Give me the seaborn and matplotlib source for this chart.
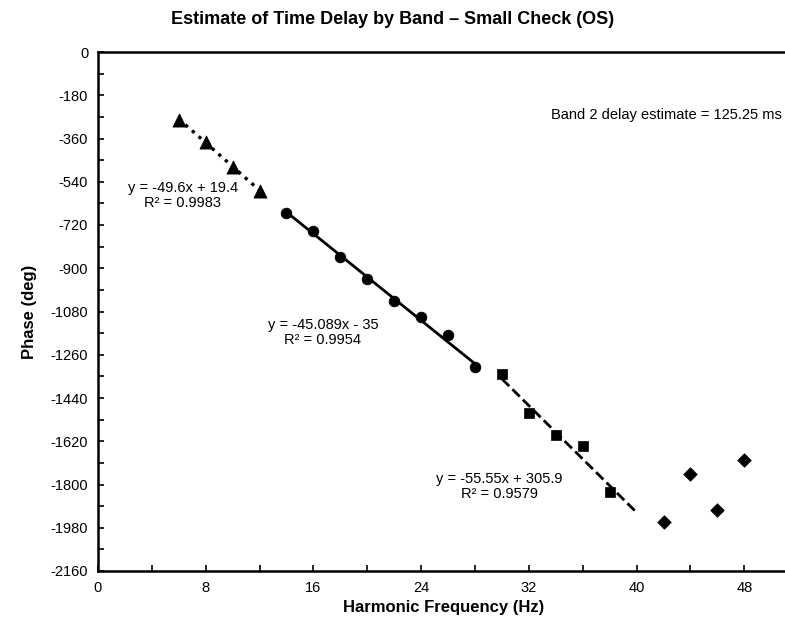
import numpy as np
import pandas as pd
import matplotlib
matplotlib.use("Agg")
import matplotlib.pyplot as plt
from matplotlib.ticker import MultipleLocator
import seaborn as sns

# Harmonic phase measurements, grouped by band
band1_hz = [6, 8, 10, 12]
band1_phase = [-285, -375, -480, -580]

band2_hz = [14, 16, 18, 20, 22, 24, 26, 28]
band2_phase = [-668, -745, -855, -945, -1035, -1104, -1176, -1310]

band3_hz = [30, 32, 34, 36, 38]
band3_phase = [-1342, -1502, -1592, -1638, -1832]

band4_hz = [42, 44, 46, 48]
band4_phase = [-1956, -1755, -1908, -1700]

# Linear trendlines (slope, intercept, R^2, x-span)
fit1 = (-49.6, 19.4, 0.9983, (6, 12))
fit2 = (-45.089, -35.0, 0.9954, (14, 28))
fit3 = (-55.55, 305.9, 0.9579, (30, 40))

delay_text = "Band 2 delay estimate = 125.25 ms"

sns.set_theme(style="white")
plt.rcParams["font.family"] = ["Liberation Sans", "DejaVu Sans"]
plt.rcParams["axes.unicode_minus"] = False
plt.rcParams["text.color"] = "black"
plt.rcParams["axes.labelcolor"] = "black"
plt.rcParams["xtick.color"] = "black"
plt.rcParams["ytick.color"] = "black"

fig = plt.figure(figsize=(7.85, 6.25), dpi=100)
ax = fig.add_axes([0.1248, 0.0864, 0.88, 0.8304])

bands = [
    (band1_hz, band1_phase, "^", 90),
    (band2_hz, band2_phase, "o", 60),
    (band3_hz, band3_phase, "s", 60),
    (band4_hz, band4_phase, "D", 48),
]
for hz, ph, mk, sz in bands:
    df = pd.DataFrame({"hz": hz, "phase": ph})
    sns.scatterplot(data=df, x="hz", y="phase", marker=mk, s=sz,
                    color="black", edgecolor="black", linewidth=0.5,
                    ax=ax, zorder=3)

styles = [(":", 2.4), ("-", 2.0), ("--", 2.0)]
for (m, b, r2, (x0, x1)), (ls, lw) in zip([fit1, fit2, fit3], styles):
    xs = np.array([x0, x1], dtype=float)
    line = pd.DataFrame({"hz": xs, "phase": m * xs + b})
    sns.lineplot(data=line, x="hz", y="phase", color="black",
                 linestyle=ls, linewidth=lw, ax=ax, zorder=2)


def eq_label(m, b, r2):
    sign = "+" if b >= 0 else "-"
    return f"y = {m:g}x {sign} {abs(b):g}\nR² = {r2:.4f}"


txt_kw = dict(ha="center", va="center", fontsize=10.5, linespacing=1.1,
              color="black")
ax.text(6.3, -597, eq_label(*fit1[:3]), **txt_kw)
ax.text(16.7, -1168, eq_label(*fit2[:3]), **txt_kw)
ax.text(29.8, -1807, eq_label(*fit3[:3]), **txt_kw)
ax.text(42.25, -262, delay_text, ha="center", va="center", fontsize=10.5,
        color="black")

ax.set_xlim(0, 51.3)
ax.set_ylim(-2160, 0)
ax.xaxis.set_major_locator(MultipleLocator(8))
ax.xaxis.set_minor_locator(MultipleLocator(4))
ax.yaxis.set_major_locator(MultipleLocator(180))
ax.yaxis.set_minor_locator(MultipleLocator(90))
ax.tick_params(which="both", direction="in", length=4, width=1.2,
               color="black", labelsize=10.5, pad=7)
ax.tick_params(which="both", top=False, right=False, bottom=True, left=True)

for side in ["left", "bottom", "top"]:
    ax.spines[side].set_visible(True)
    ax.spines[side].set_color("black")
    ax.spines[side].set_linewidth(1.8)
ax.spines["right"].set_visible(False)

ax.set_xlabel("Harmonic Frequency (Hz)", fontsize=12, fontweight="bold",
              labelpad=4)
ax.set_ylabel("Phase (deg)", fontsize=12, fontweight="bold", labelpad=10)
fig.suptitle("Estimate of Time Delay by Band – Small Check (OS)",
             x=0.5, y=0.982, fontsize=13, fontweight="bold", color="black")

fig.savefig("out.png", dpi=100)
